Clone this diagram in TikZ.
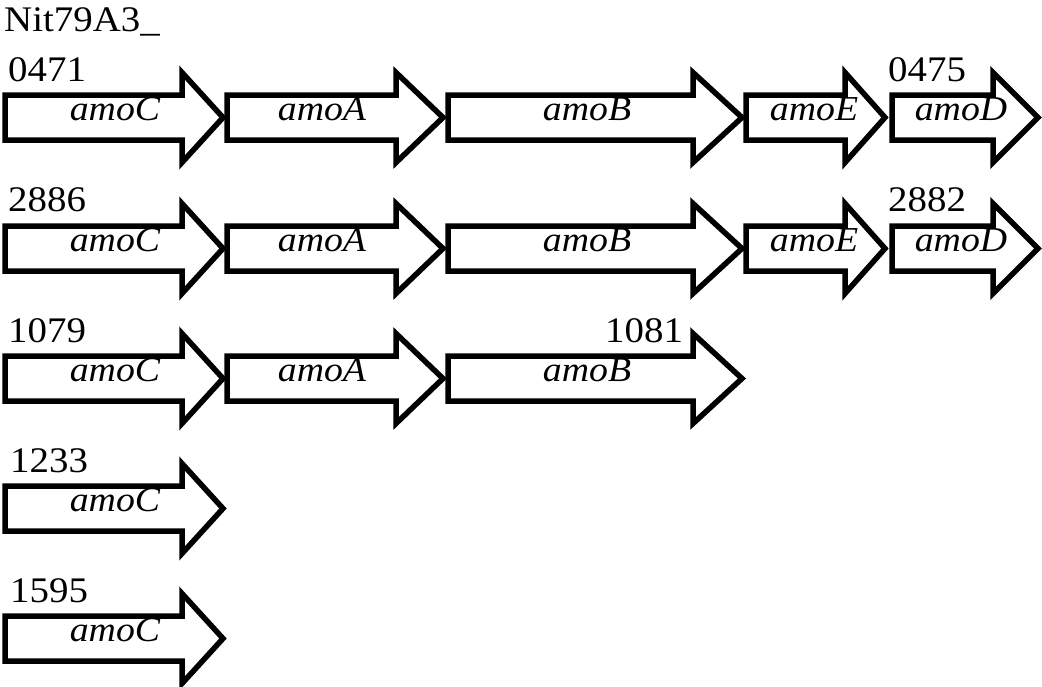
\documentclass[tikz,border=0pt]{standalone}
\usepackage{fontspec}
\setmainfont[FakeStretch=1.08]{Liberation Serif}
\tikzset{
  genebox/.style={draw=black, fill=white, line width=5.5, line join=miter},
  numlab/.style={anchor=base west, inner sep=0, font=\fontsize{36}{39}\selectfont},
  genelab/.style={anchor=base, inner sep=0, font=\fontsize{35}{38}\selectfont\itshape}
}
% #1 left x, #2 head start x, #3 tip x, #4 centre y
\newcommand{\genearrow}[4]{%
  \draw[genebox] (#1,#4-22.5) -- (#2,#4-22.5) -- (#2,#4-45) -- (#3,#4)
    -- (#2,#4+45) -- (#2,#4+22.5) -- (#1,#4+22.5) -- cycle;}
\begin{document}
\begin{tikzpicture}[x=1pt,y=-1pt]
\useasboundingbox (0,0) rectangle (1042,686);
\def\ra{117.5}\def\rb{248.5}\def\rc{378.5}\def\rd{508.5}\def\re{638.5}
% row 1
\genearrow{5}{182}{223}{\ra}
\genearrow{227}{396}{443}{\ra}
\genearrow{448}{693}{742}{\ra}
\genearrow{746}{845}{885}{\ra}
\genearrow{892}{993}{1038}{\ra}
% row 2
\genearrow{5}{182}{223}{\rb}
\genearrow{227}{396}{443}{\rb}
\genearrow{448}{693}{742}{\rb}
\genearrow{746}{845}{885}{\rb}
\genearrow{892}{993}{1038}{\rb}
% row 3
\genearrow{5}{182}{223}{\rc}
\genearrow{227}{396}{443}{\rc}
\genearrow{448}{693}{742}{\rc}
% row 4, 5
\genearrow{5}{182}{223}{\rd}
\genearrow{5}{182}{223}{\re}
% texts
\node[numlab] (title) at (4,31) {Nit79A3\_};
\node[numlab] (n0471) at (8,\ra-36) {0471};
\node[numlab] (n0475) at (888,\ra-36) {0475};
\node[numlab] (n2886) at (8,\rb-37) {2886};
\node[numlab] (n2882) at (888,\rb-37) {2882};
\node[numlab] (n1079) at (8,\rc-36) {1079};
\node[numlab] (n1081) at (605,\rc-36) {1081};
\node[numlab] (n1233) at (10,\rd-36) {1233};
\node[numlab] (n1595) at (10,\re-36) {1595};
\foreach \r/\n in {\ra/1,\rb/2,\rc/3,\rd/4,\re/5}{
  \node[genelab] (c\n) at (115,\r+3) {amoC};
}
\foreach \r/\n in {\ra/1,\rb/2,\rc/3}{
  \node[genelab] (a\n) at (322,\r+3) {amoA};
  \node[genelab] (b\n) at (587,\r+3) {amoB};
}
\foreach \r/\n in {\ra/1,\rb/2}{
  \node[genelab] (e\n) at (814,\r+3) {amoE};
  \node[genelab] (d\n) at (961,\r+3) {amoD};
}
\end{tikzpicture}
\end{document}
